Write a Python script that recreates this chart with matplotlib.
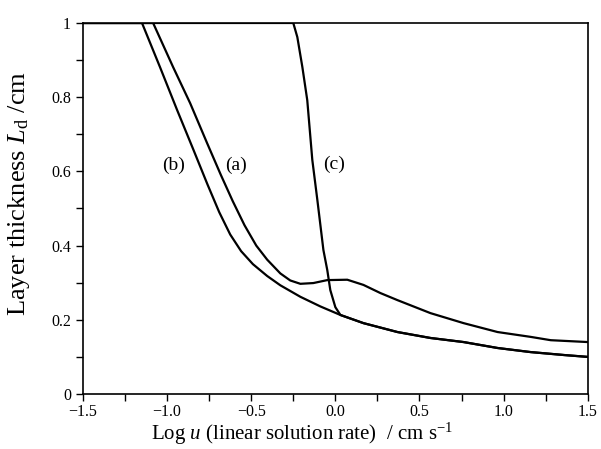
import matplotlib
matplotlib.use('Agg')
import matplotlib.pyplot as plt
from matplotlib.ticker import MultipleLocator, FixedLocator

# curve (a)
a_x = [-1.5, -1.083, -0.964, -0.863, -0.762, -0.68, -0.61, -0.54, -0.47, -0.405, -0.327,
       -0.268, -0.208, -0.131, -0.048, 0.071, 0.167, 0.268, 0.369, 0.565, 0.762, 0.964,
       1.16, 1.28, 1.5]
a_y = [1.0, 1.0, 0.881, 0.784, 0.676, 0.59, 0.52, 0.455, 0.4, 0.362, 0.325,
       0.306, 0.297, 0.299, 0.307, 0.308, 0.294, 0.272, 0.253, 0.218, 0.191, 0.167,
       0.154, 0.145, 0.14]
# curve (b)
b_x = [-1.5, -1.149, -1.042, -0.94, -0.845, -0.76, -0.69, -0.625, -0.56, -0.49, -0.405,
       -0.327, -0.208, -0.089, 0.03, 0.167, 0.369, 0.565, 0.762, 0.964, 1.16, 1.36, 1.5]
b_y = [1.0, 1.0, 0.881, 0.765, 0.66, 0.565, 0.49, 0.43, 0.385, 0.35, 0.318,
       0.293, 0.262, 0.236, 0.213, 0.191, 0.167, 0.151, 0.14, 0.124, 0.113, 0.105, 0.1]
# curve (c)
c_x = [-1.5, -0.25, -0.226, -0.196, -0.167, -0.137, -0.107, -0.071, -0.048, -0.03,
       0.0, 0.03, 0.167, 0.369, 0.565, 0.762, 0.964, 1.16, 1.36, 1.5]
c_y = [1.0, 1.0, 0.962, 0.881, 0.792, 0.631, 0.523, 0.388, 0.334, 0.28,
       0.234, 0.213, 0.191, 0.167, 0.151, 0.14, 0.124, 0.113, 0.105, 0.1]

labels = ['(b)', '(a)', '(c)']
label_x = [-0.96, -0.59, -0.005]
label_y = [0.615, 0.615, 0.62]

plt.rcParams['font.family'] = 'Liberation Serif'
plt.rcParams['mathtext.fontset'] = 'custom'
plt.rcParams['mathtext.rm'] = 'Liberation Serif'
plt.rcParams['mathtext.it'] = 'Liberation Serif:italic'

fig = plt.figure(figsize=(6.01, 4.49), dpi=100)
ax = fig.add_axes([0.138, 0.1225, 0.84, 0.8263])

for xs, ys in [(a_x, a_y), (b_x, b_y), (c_x, c_y)]:
    ax.plot(xs, ys, color='black', lw=1.6, solid_joinstyle='round')

for t, x, y in zip(labels, label_x, label_y):
    ax.text(x, y, t, fontsize=14, ha='center', va='center')

ax.set_xlim(-1.5, 1.5)
ax.set_ylim(0, 1)
ax.xaxis.set_major_locator(FixedLocator([-1.5, -1.0, -0.5, 0.0, 0.5, 1.0, 1.5]))
ax.xaxis.set_minor_locator(MultipleLocator(0.25))
ax.set_xticklabels(['\u22121.5', '\u22121.0', '\u22120.5', '0.0', '0.5', '1.0', '1.5'])
ax.set_yticks([0, 0.2, 0.4, 0.6, 0.8, 1.0])
ax.yaxis.set_minor_locator(MultipleLocator(0.1))
ax.set_yticklabels(['0', '0.2', '0.4', '0.6', '0.8', '1'])

ax.tick_params(which='both', direction='out', labelsize=11.5, top=False, right=False,
               length=5, width=1)
ax.tick_params(axis='x', which='both', pad=2)
for s in ax.spines.values():
    s.set_linewidth(1.2)

ax.set_xlabel(r'Log $u$ (linear solution rate)  / cm s$^{\mathrm{-1}}$', fontsize=15)
ax.xaxis.set_label_coords(0.434, -0.072)
ax.set_ylabel(r'Layer thickness $L_{\mathrm{d}}$ /cm', fontsize=19)
ax.yaxis.set_label_coords(-0.1, 0.54)

fig.savefig('out.png', dpi=100)
